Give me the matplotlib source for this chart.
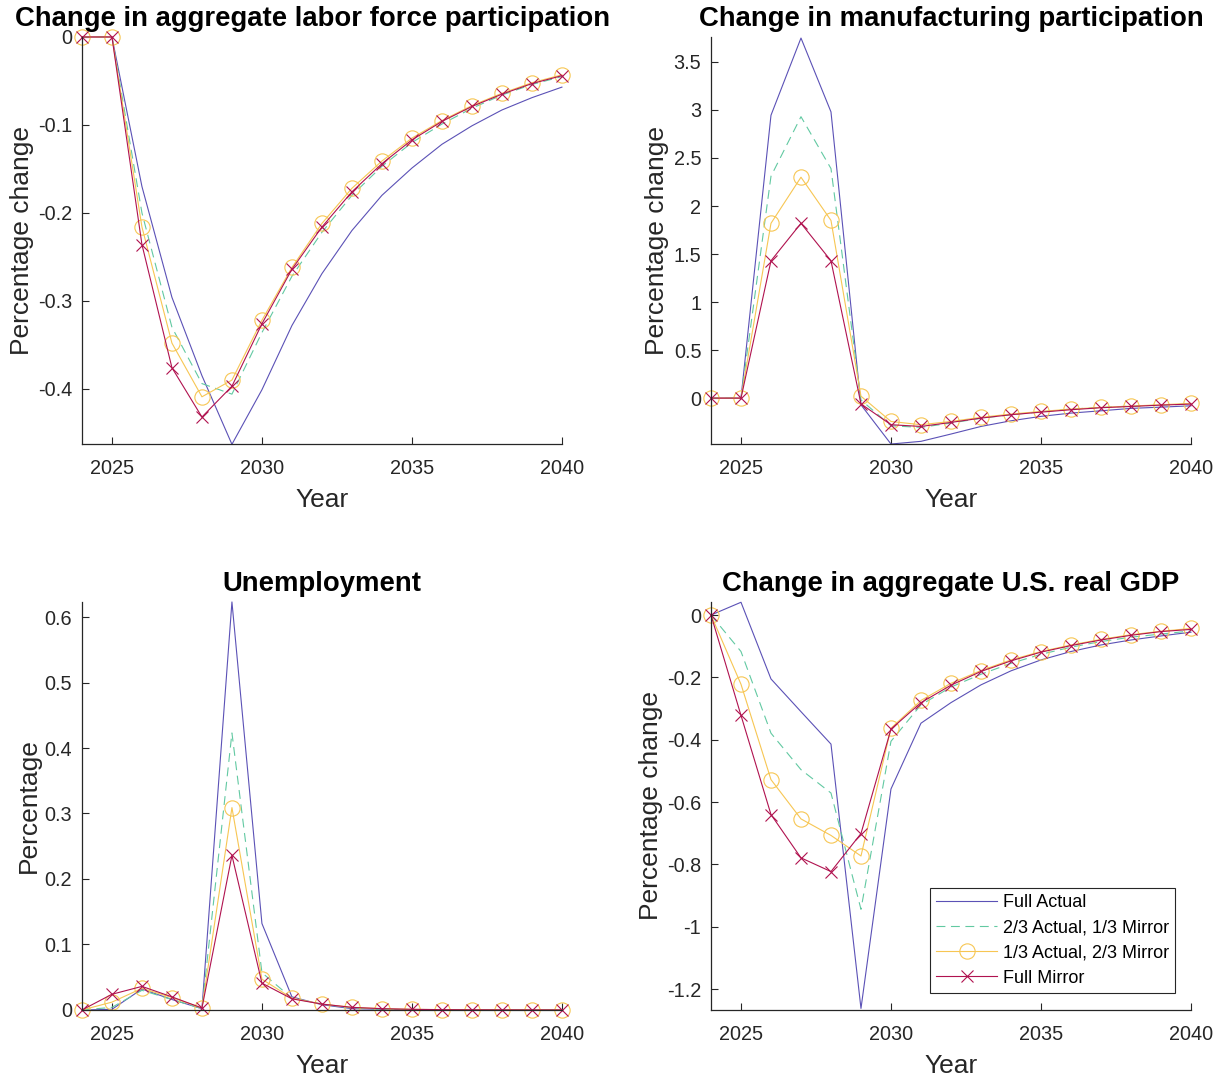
import matplotlib
matplotlib.use('Agg')
import matplotlib.pyplot as plt
from matplotlib.ticker import FuncFormatter

plt.rcParams['font.family'] = ['Liberation Sans', 'DejaVu Sans']
plt.rcParams['axes.unicode_minus'] = False

years = list(range(2024, 2041))
series_names = ['Full Actual', '2/3 Actual, 1/3 Mirror',
                '1/3 Actual, 2/3 Mirror', 'Full Mirror']

# labor force participation, % change
lfp_full_actual = [0, 0, -0.170, -0.296, -0.385, -0.463, -0.401, -0.328, -0.269,
                   -0.220, -0.180, -0.149, -0.122, -0.101, -0.083, -0.069, -0.057]
lfp_two_thirds = [0, 0, -0.200, -0.330, -0.394, -0.406, -0.336, -0.272, -0.222,
                  -0.180, -0.147, -0.120, -0.099, -0.081, -0.066, -0.054, -0.045]
lfp_one_third = [0, 0, -0.216, -0.348, -0.409, -0.390, -0.322, -0.262, -0.212,
                 -0.172, -0.141, -0.115, -0.095, -0.078, -0.064, -0.052, -0.043]
lfp_full_mirror = [0, 0, -0.236, -0.376, -0.432, -0.397, -0.326, -0.264, -0.216,
                   -0.176, -0.144, -0.117, -0.096, -0.079, -0.065, -0.053, -0.044]

# manufacturing participation, % change
mfg_full_actual = [0, 0, 2.945, 3.749, 2.98, -0.07, -0.478, -0.45, -0.374,
                   -0.295, -0.236, -0.19, -0.156, -0.132, -0.107, -0.094, -0.08]
mfg_two_thirds = [0, 0, 2.31, 2.93, 2.39, -0.02, -0.288, -0.305, -0.26,
                  -0.21, -0.173, -0.142, -0.114, -0.097, -0.083, -0.073, -0.062]
mfg_one_third = [0, 0, 1.82, 2.30, 1.85, 0.02, -0.243, -0.277, -0.243,
                 -0.20, -0.166, -0.139, -0.114, -0.097, -0.083, -0.069, -0.055]
mfg_full_mirror = [0, 0, 1.43, 1.82, 1.43, -0.06, -0.277, -0.295, -0.253,
                   -0.208, -0.173, -0.146, -0.121, -0.10, -0.087, -0.073, -0.062]

# unemployment, percentage
unemp_full_actual = [0, 0.001, 0.032, 0.016, 0.002, 0.623, 0.132, 0.020, 0.008,
                     0.002, 0.001, 0.0005, 0.0003, 0.0002, 0.0001, 0.0001, 0.0001]
unemp_two_thirds = [0, 0.004, 0.030, 0.016, 0.002, 0.423, 0.057, 0.018, 0.009,
                    0.003, 0.001, 0.0005, 0.0003, 0.0002, 0.0001, 0.0001, 0.0001]
unemp_one_third = [0, 0.012, 0.033, 0.019, 0.003, 0.309, 0.047, 0.018, 0.009,
                   0.004, 0.002, 0.001, 0.0005, 0.0003, 0.0002, 0.0001, 0.0001]
unemp_full_mirror = [0, 0.024, 0.036, 0.020, 0.003, 0.236, 0.041, 0.017, 0.009,
                     0.004, 0.002, 0.001, 0.0005, 0.0003, 0.0002, 0.0001, 0.0001]

# real GDP, % change
gdp_full_actual = [0, 0.041, -0.205, -0.31, -0.414, -1.262, -0.558, -0.347, -0.281,
                   -0.224, -0.179, -0.144, -0.117, -0.096, -0.08, -0.067, -0.055]
gdp_two_thirds = [0, -0.117, -0.379, -0.496, -0.571, -0.944, -0.405, -0.288, -0.231,
                  -0.19, -0.155, -0.126, -0.103, -0.085, -0.071, -0.061, -0.051]
gdp_one_third = [0, -0.222, -0.528, -0.654, -0.707, -0.773, -0.363, -0.274, -0.219,
                 -0.178, -0.144, -0.117, -0.096, -0.078, -0.063, -0.052, -0.043]
gdp_full_mirror = [0, -0.322, -0.64, -0.779, -0.823, -0.701, -0.366, -0.281, -0.225,
                   -0.181, -0.147, -0.119, -0.098, -0.08, -0.065, -0.053, -0.046]

styles = [
    dict(color='#5b51b6', linestyle='-', linewidth=0.8),
    dict(color='#62c9a2', linestyle=(0, (8, 5)), linewidth=0.8),
    dict(color='#f7c653', linestyle='-', linewidth=0.8, marker='o',
         markersize=11, markerfacecolor='none', markeredgewidth=0.8),
    dict(color='#b0124f', linestyle='-', linewidth=0.8, marker='x',
         markersize=8, markeredgewidth=0.8),
]

panels = [
    ('Change in aggregate labor force participation', 'Percentage change',
     [lfp_full_actual, lfp_two_thirds, lfp_one_third, lfp_full_mirror],
     (-0.4627, 0), [-0.4, -0.3, -0.2, -0.1, 0]),
    ('Change in manufacturing participation', 'Percentage change',
     [mfg_full_actual, mfg_two_thirds, mfg_one_third, mfg_full_mirror],
     (-0.478, 3.76), [0, 0.5, 1, 1.5, 2, 2.5, 3, 3.5]),
    ('Unemployment', 'Percentage',
     [unemp_full_actual, unemp_two_thirds, unemp_one_third, unemp_full_mirror],
     (0, 0.623), [0, 0.1, 0.2, 0.3, 0.4, 0.5, 0.6]),
    ('Change in aggregate U.S. real GDP', 'Percentage change',
     [gdp_full_actual, gdp_two_thirds, gdp_one_third, gdp_full_mirror],
     (-1.267, 0.042), [-1.2, -1, -0.8, -0.6, -0.4, -0.2, 0]),
]

positions = [
    [0.0669, 0.5881, 0.3918, 0.3776],
    [0.5804, 0.5881, 0.3918, 0.3776],
    [0.0669, 0.0631, 0.3918, 0.3785],
    [0.5804, 0.0631, 0.3918, 0.3785],
]

fig = plt.figure(figsize=(12.25, 10.78), dpi=100)
dark = '#262626'

for i, ((title, ylabel, data, ylim, yticks), pos) in enumerate(zip(panels, positions)):
    ax = fig.add_axes(pos)
    for vals, name, st in zip(data, series_names, styles):
        ax.plot(years, vals, label=name, clip_on=False, **st)
    ax.set_xlim(2024, 2040)
    ax.set_ylim(*ylim)
    ax.set_xticks([2025, 2030, 2035, 2040])
    ax.set_yticks(yticks)
    ax.yaxis.set_major_formatter(FuncFormatter(lambda v, p: '%g' % round(v, 4)))
    # first title is wide, pushed left a bit like the original
    tx = 0.48 if i == 0 else 0.5
    ax.set_title(title, fontsize=19.8, fontweight='bold', pad=8, x=tx)
    ax.set_xlabel('Year', fontsize=19, color=dark, labelpad=7)
    ax.set_ylabel(ylabel, fontsize=19, color=dark, labelpad=3)
    for s in ['top', 'right']:
        ax.spines[s].set_visible(False)
    for s in ['left', 'bottom']:
        ax.spines[s].set_color(dark)
        ax.spines[s].set_linewidth(0.9)
    ax.tick_params(direction='in', length=5, width=0.8, colors=dark,
                   labelsize=14.3, pad=7)
    ax.tick_params(axis='x', pad=11)
    last_ax = ax

leg = last_ax.legend(loc='lower right', bbox_to_anchor=(0.967, 0.042),
                     borderaxespad=0, fancybox=False, edgecolor=dark,
                     fontsize=13, handlelength=3.4, borderpad=0.35,
                     labelspacing=0.45, handletextpad=0.3, framealpha=1)
leg.get_frame().set_linewidth(0.8)

fig.savefig('out.png', dpi=100)
